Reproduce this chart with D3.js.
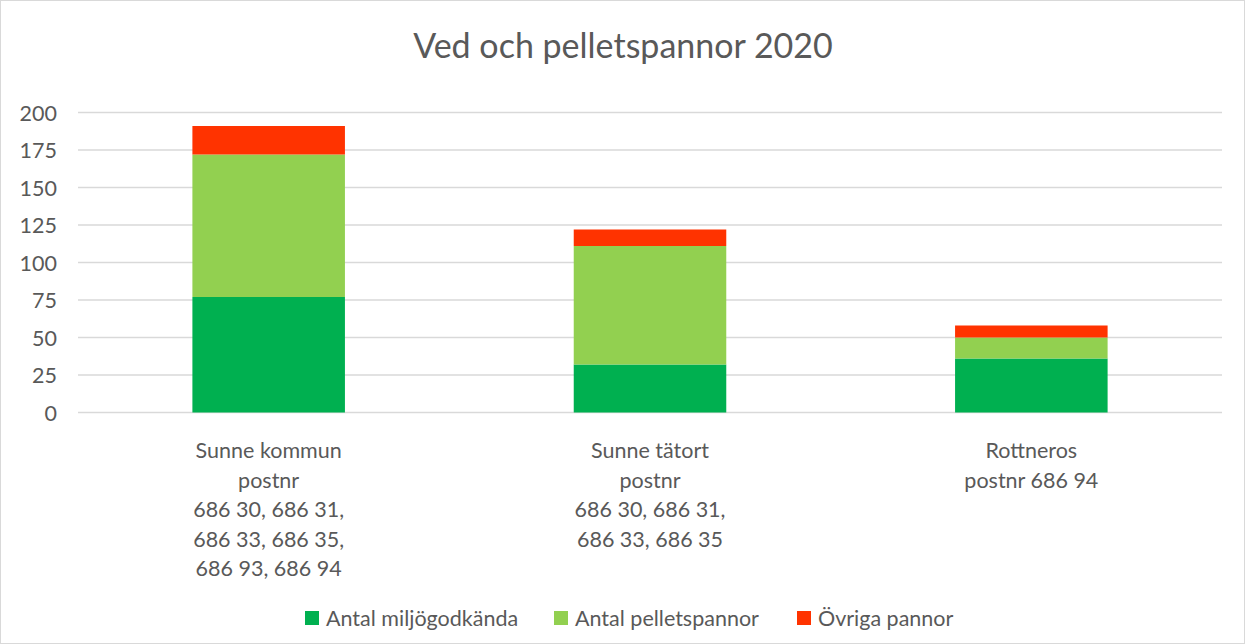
<!DOCTYPE html>
<html>
<head>
<meta charset="utf-8">
<script src="https://cdn.jsdelivr.net/npm/d3@7"></script>
<style>
  body { margin: 0; background: #fff; }
  text { font-family: Lato, "Open Sans", sans-serif; fill: #595959; }
</style>
</head>
<body>
<div id="chart"></div>
<script>
// data
const categories = [
  ['Sunne kommun', 'postnr', '686 30, 686 31,', '686 33, 686 35,', '686 93, 686 94'],
  ['Sunne tätort', 'postnr', '686 30, 686 31,', '686 33, 686 35'],
  ['Rottneros', 'postnr 686 94']
];
const miljogodkanda = [77, 32, 36];
const pelletspannor = [95, 79, 14];
const ovriga = [19, 11, 8];
const seriesNames = ['Antal miljögodkända', 'Antal pelletspannor', 'Övriga pannor'];
const seriesColors = ['#00b050', '#92d050', '#ff3300'];
const yTicks = [0, 25, 50, 75, 100, 125, 150, 175, 200];

const width = 1245;
const height = 644;
const labelSize = '21.5px';

const svg = d3.select('#chart')
  .append('svg')
  .attr('width', width)
  .attr('height', height);

// chart border
svg.append('rect')
  .attr('x', 0.5).attr('y', 0.5)
  .attr('width', width - 1).attr('height', height - 1)
  .attr('fill', '#fff')
  .attr('stroke', '#d9d9d9');

svg.append('text')
  .attr('x', 623).attr('y', 58)
  .attr('text-anchor', 'middle')
  .style('font-size', '34px')
  .text('Ved och pelletspannor 2020');

const plotLeft = 78, plotRight = 1222, plotTop = 112.5, plotBottom = 412.5;

const x = d3.scaleBand()
  .domain(d3.range(categories.length))
  .range([plotLeft, plotRight])
  .paddingInner(0.6)
  .paddingOuter(0.3);

const y = d3.scaleLinear()
  .domain([0, 200])
  .range([plotBottom, plotTop]);

// gridlines
svg.append('g')
  .selectAll('line')
  .data(yTicks)
  .enter()
  .append('line')
  .attr('x1', plotLeft).attr('x2', plotRight)
  .attr('y1', d => y(d)).attr('y2', d => y(d))
  .attr('stroke', '#d9d9d9')
  .attr('stroke-width', 1.5);

// y axis labels
const axisY = d3.axisLeft(y).tickValues(yTicks).tickSize(0).tickPadding(0);
const gy = svg.append('g')
  .attr('transform', `translate(57, 1)`)
  .call(axisY);
gy.select('.domain').remove();
gy.selectAll('text')
  .style('font-size', labelSize)
  .style('font-family', 'Lato, "Open Sans", sans-serif')
  .attr('fill', '#595959');

// stacked bars
const table = categories.map((c, i) => ({
  i: i, a: miljogodkanda[i], b: pelletspannor[i], c: ovriga[i]
}));
const stacked = d3.stack().keys(['a', 'b', 'c'])(table);

svg.append('g')
  .selectAll('g')
  .data(stacked)
  .enter()
  .append('g')
  .attr('fill', (d, k) => seriesColors[k])
  .selectAll('rect')
  .data(d => d)
  .enter()
  .append('rect')
  .attr('x', d => x(d.data.i))
  .attr('width', x.bandwidth())
  .attr('y', d => y(d[1]))
  .attr('height', d => y(d[0]) - y(d[1]));

// category labels
const catGroup = svg.append('g');
categories.forEach((lines, i) => {
  const t = catGroup.append('text')
    .attr('text-anchor', 'middle')
    .style('font-size', labelSize);
  lines.forEach((line, j) => {
    t.append('tspan')
      .attr('x', x(i) + x.bandwidth() / 2)
      .attr('y', 458 + j * 29.5)
      .text(line);
  });
});

// legend
const legendX = [305, 554, 797];
const legend = svg.append('g');
seriesNames.forEach((name, k) => {
  legend.append('rect')
    .attr('x', legendX[k]).attr('y', 611)
    .attr('width', 14).attr('height', 14)
    .attr('fill', seriesColors[k]);
  legend.append('text')
    .attr('x', legendX[k] + 21).attr('y', 626)
    .style('font-size', labelSize)
    .text(name);
});
</script>
</body>
</html>
